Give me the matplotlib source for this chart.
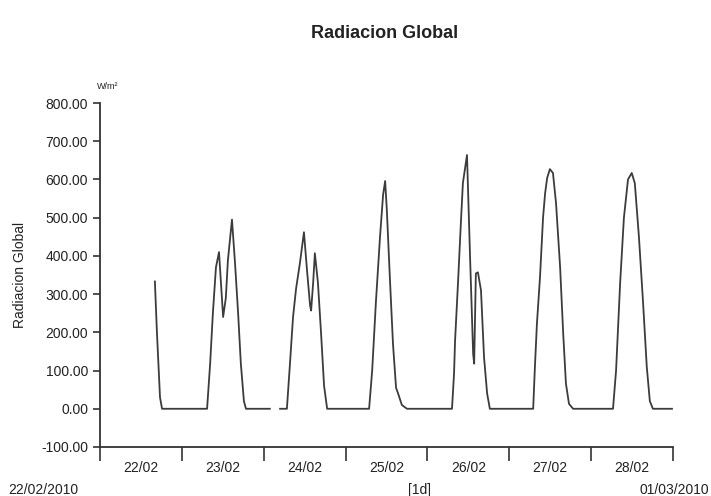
import numpy as np
import matplotlib
matplotlib.use("Agg")
from matplotlib import pyplot as plt

plt.rcParams['font.family'] = ['Liberation Sans', 'DejaVu Sans']

# hours since 22/02/2010 00:00 and global radiation (W/m2); NaN = missing data
hours = [16.1, 16.7, 17.6, 18.2, 31.4, 32.3, 33.1, 34.0, 34.9, 36.1, 36.9, 37.5,
         38.7, 39.6, 40.5, 41.3, 42.2, 42.8, 49.8, 50.0, 52.8, 54.8, 55.7, 56.6,
         57.5, 58.6, 59.8, 60.7, 61.6, 61.9, 62.5, 63.0, 63.9, 64.8, 65.7, 66.6,
         78.9, 79.8, 80.9, 82.1, 83.0, 83.6, 84.1, 85.0, 85.9, 86.8, 87.4, 88.5,
         90.0, 103.2, 103.8, 104.1, 105.0, 105.8, 106.4, 107.6, 108.5, 109.4,
         109.7, 110.2, 110.8, 111.7, 112.6, 113.5, 114.3, 127.0, 127.5, 128.1,
         129.0, 129.9, 130.5, 131.1, 131.9, 132.8, 133.7, 134.9, 135.8, 136.6,
         137.5, 138.7, 150.4, 151.3, 152.5, 153.6, 154.8, 155.9, 156.8, 158.0,
         159.2, 160.3, 161.2, 162.1, 167.7]
radiacion = [333, 200, 30, 0, 0, 118, 250, 370, 410, 240, 290, 388,
             495, 380, 250, 118, 20, 0, 0, np.nan, 0, 0, 118, 240,
             315, 380, 462, 362, 270, 257, 330, 407, 330, 200, 60, 0,
             0, 100, 280, 450, 560, 596, 520, 340, 170, 55, 40, 10,
             0, 0, 92, 178, 336, 486, 591, 664, 396, 144,
             118, 354, 357, 310, 134, 40, 0, 0, 108, 223,
             344, 501, 564, 604, 627, 617, 538, 370, 197, 66,
             13, 0, 0, 100, 330, 500, 600, 617, 590, 450,
             280, 110, 20, 0, 0]

day_labels = ['22/02', '23/02', '24/02', '25/02', '26/02', '27/02', '28/02']
y_ticks = [-100, 0, 100, 200, 300, 400, 500, 600, 700, 800]

fig = plt.figure(figsize=(7.11, 4.96), dpi=100)
ax = fig.add_axes([0.1406, 0.0988, 0.806, 0.6935])

ax.plot(hours, radiacion, color='#3c3c3c', lw=1.3)

ax.set_xlim(0, 168)
ax.set_ylim(-100, 800)
ax.set_yticks(y_ticks)
ax.set_yticklabels(['%.2f' % v for v in y_ticks], fontsize=10, color='#222222')
ax.set_xticks(np.arange(0, 169, 24))
ax.set_xticklabels([])
ax.set_xticks(np.arange(12, 168, 24), minor=True)
ax.set_xticklabels(day_labels, minor=True, fontsize=10, color='#222222')
ax.tick_params(axis='x', which='major', length=10, width=1.2, color='#333333')
ax.tick_params(axis='x', which='minor', length=0, pad=10)
ax.tick_params(axis='y', length=5, width=1.2, color='#333333')

for s in ['top', 'right']:
    ax.spines[s].set_visible(False)
for s in ['left', 'bottom']:
    ax.spines[s].set_linewidth(1.3)
    ax.spines[s].set_color('#333333')

ax.set_ylabel('Radiacion Global', fontsize=10, color='#222222', labelpad=10)

fig.text(0.541, 0.932, 'Radiacion Global', ha='center', va='center',
         fontsize=13, fontweight='bold', color='#222222')
fig.text(0.137, 0.825, 'W/m\u00b2', fontsize=6.5, color='#222222', va='center')
fig.text(0.012, 0.004, '22/02/2010', fontsize=10, color='#222222')
fig.text(0.59, 0.004, '[1d]', fontsize=10, color='#222222', ha='center')
fig.text(0.998, 0.004, '01/03/2010', fontsize=10, color='#222222', ha='right')

fig.savefig('out.png', dpi=100)
